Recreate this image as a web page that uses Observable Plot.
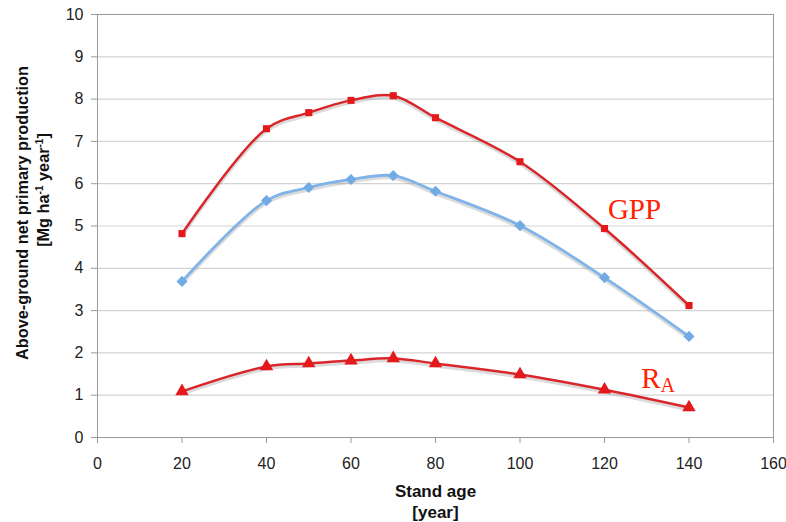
<!DOCTYPE html>
<html>
<head>
<meta charset="utf-8">
<script src="https://cdn.jsdelivr.net/npm/d3@7"></script>
<script src="https://cdn.jsdelivr.net/npm/@observablehq/plot@0.6"></script>
<style>
  html, body { margin: 0; padding: 0; background: #fff; }
  #chart svg { display: block; }
</style>
</head>
<body>
<div id="chart"></div>
<script>
const ages = [20, 40, 50, 60, 70, 80, 100, 120, 140];
const gpp = [4.82, 7.30, 7.68, 7.97, 8.08, 7.56, 6.52, 4.94, 3.12];
const anpp = [3.69, 5.60, 5.91, 6.10, 6.19, 5.82, 5.01, 3.78, 2.39];
const ra = [1.09, 1.68, 1.75, 1.82, 1.87, 1.75, 1.49, 1.13, 0.71];
const xTicks = [0, 20, 40, 60, 80, 100, 120, 140, 160];
const yTicks = [0, 1, 2, 3, 4, 5, 6, 7, 8, 9, 10];
const yTitle = ["Above-ground net primary production"];
const xTitle = ["Stand age", "[year]"];
const gppLabel = [{x: 127.1, y: 5.39, text: "GPP"}];
const raLabel = [{x: 133.25, y: 1.395, main: "R", sub: "A"}];

const rows = (vals) => ages.map((a, i) => ({age: a, v: vals[i]}));
const gppRows = rows(gpp), anppRows = rows(anpp), raRows = rows(ra);

const red = "#d9262b", redMark = "#e3191c", blue = "#80b4e8", blueMark = "#72aae6";
const shadow = (data) => Plot.line(data, {x: "age", y: "v", curve: "catmull-rom", stroke: "#888", strokeOpacity: 0.3, strokeWidth: 3, dy: 2.5});

const chart = Plot.plot({
  width: 786, height: 522,
  marginLeft: 97, marginRight: 13, marginTop: 14, marginBottom: 85,
  x: {domain: [0, 160]},
  y: {domain: [0, 10]},
  style: {fontFamily: "'Liberation Sans', Arial, sans-serif", fontSize: "16px", color: "#222", background: "#fff"},
  marks: [
    Plot.gridY(yTicks, {stroke: "#d4d4d4", strokeOpacity: 1, strokeWidth: 1.2}),
    Plot.frame({stroke: "#9a9a9a"}),
    Plot.axisY(yTicks, {tickSize: 6, tickPadding: 8, label: null, stroke: "#9a9a9a", fontSize: 16, tickFormat: d => d}),
    Plot.axisX(xTicks, {tickSize: 6, tickPadding: 14, label: null, stroke: "#9a9a9a", fontSize: 16, tickFormat: d => d}),
    shadow(gppRows), shadow(anppRows), shadow(raRows),
    Plot.line(gppRows, {x: "age", y: "v", curve: "catmull-rom", stroke: red, strokeWidth: 2.5}),
    Plot.line(anppRows, {x: "age", y: "v", curve: "catmull-rom", stroke: blue, strokeWidth: 2.8}),
    Plot.line(raRows, {x: "age", y: "v", curve: "catmull-rom", stroke: red, strokeWidth: 2.5}),
    Plot.dot(gppRows, {x: "age", y: "v", symbol: "square", r: 4, fill: redMark, stroke: "none"}),
    Plot.dot(anppRows, {x: "age", y: "v", symbol: "diamond2", r: 5, fill: blueMark, stroke: "none"}),
    Plot.dot(raRows, {x: "age", y: "v", symbol: "triangle", r: 5, fill: redMark, stroke: "none"}),
    Plot.text(gppLabel, {x: "x", y: "y", text: "text", fontFamily: "'Liberation Serif', 'Times New Roman', serif", fontSize: 29, fill: "#ff2200", textAnchor: "middle"}),
    Plot.text(raLabel, {x: "x", y: "y", text: "main", fontFamily: "'Liberation Serif', 'Times New Roman', serif", fontSize: 29, fill: "#ff2200", textAnchor: "end"}),
    Plot.text(raLabel, {x: "x", y: "y", text: "sub", fontFamily: "'Liberation Serif', 'Times New Roman', serif", fontSize: 20, fill: "#ff2200", textAnchor: "start", dy: 7}),
    Plot.text(yTitle, {frameAnchor: "left", textAnchor: "middle", lineAnchor: "middle", rotate: -90, dx: -75, dy: -13, fontWeight: "bold", fontSize: 16.3, fill: "#111"}),
    Plot.text([xTitle[0]], {frameAnchor: "bottom", textAnchor: "middle", lineAnchor: "middle", dy: 54, fontWeight: "bold", fontSize: 17, fill: "#111"}),
    Plot.text([xTitle[1]], {frameAnchor: "bottom", textAnchor: "middle", lineAnchor: "middle", dy: 75, fontWeight: "bold", fontSize: 17, fill: "#111"})
  ]
});

// second line of the y title with superscripts
const svg = d3.select(chart);
const t = svg.append("text")
  .attr("transform", "translate(44,190) rotate(-90)")
  .attr("text-anchor", "middle")
  .attr("dy", "0.32em")
  .attr("font-family", "'Liberation Sans', Arial, sans-serif")
  .attr("font-weight", "bold")
  .attr("font-size", 16.3)
  .attr("fill", "#111");
t.append("tspan").text("[Mg ha");
t.append("tspan").attr("dy", -6).attr("font-size", 10).text("-1");
t.append("tspan").attr("dy", 6).text(" year");
t.append("tspan").attr("dy", -6).attr("font-size", 10).text("-1");
t.append("tspan").attr("dy", 6).text("]");

document.getElementById("chart").appendChild(chart);
</script>
</body>
</html>
